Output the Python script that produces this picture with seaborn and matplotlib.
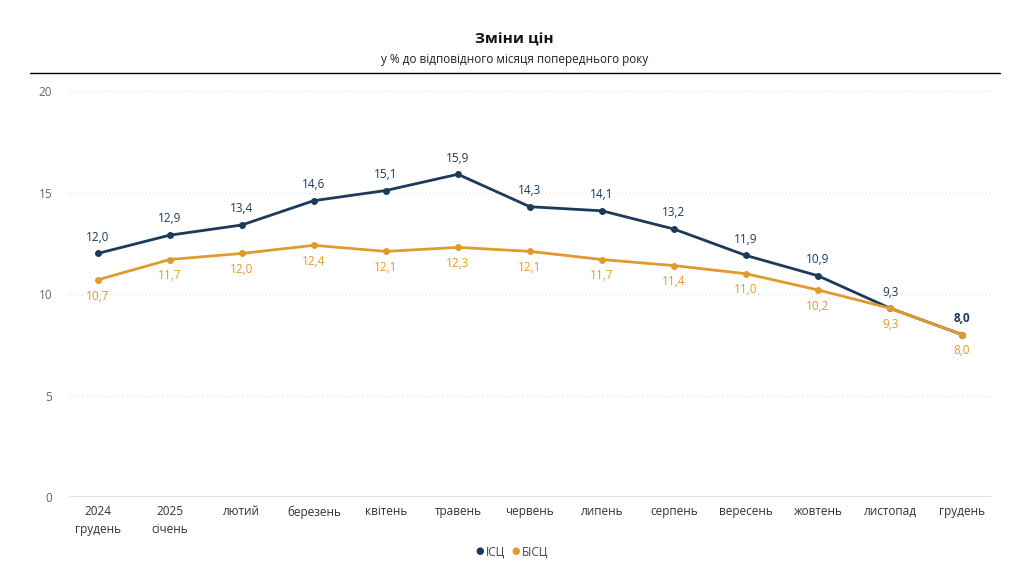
import matplotlib.pyplot as plt
import pandas as pd
import seaborn as sns

months = ["2024\nгрудень", "2025\nсічень", "лютий", "березень", "квітень", "травень",
          "червень", "липень", "серпень", "вересень", "жовтень", "листопад", "грудень"]
isc = [12.0, 12.9, 13.4, 14.6, 15.1, 15.9, 14.3, 14.1, 13.2, 11.9, 10.9, 9.3, 8.0]
bisc = [10.7, 11.7, 12.0, 12.4, 12.1, 12.3, 12.1, 11.7, 11.4, 11.0, 10.2, 9.3, 8.0]
series = ["ІСЦ", "БІСЦ"]
colors = {"ІСЦ": "#1B3A5C", "БІСЦ": "#E09A2E"}

df = pd.DataFrame({
    "x": list(range(len(months))) * 2,
    "value": isc + bisc,
    "series": [series[0]] * len(isc) + [series[1]] * len(bisc),
})

sns.set_style("white")
plt.rcParams["font.family"] = ["Open Sans", "DejaVu Sans"]

fig = plt.figure(figsize=(10.29, 5.69), dpi=100)
ax = fig.add_axes([0.067, 0.1265, 0.896, 0.7135])

sns.lineplot(data=df, x="x", y="value", hue="series", hue_order=series,
             palette=colors, marker="o", markersize=5, markeredgewidth=0,
             linewidth=2, ax=ax, legend=False)
# orange series sits on top where the lines meet
ax.lines[1].set_zorder(3)

# data labels
for i, v in enumerate(isc):
    ax.annotate(f"{v:.1f}".replace(".", ","), (i, v), xytext=(0, 7),
                textcoords="offset points", ha="center", va="bottom",
                fontsize=8.5, color=colors["ІСЦ"],
                fontweight="bold" if i == len(isc) - 1 else "medium")
for i, v in enumerate(bisc):
    ax.annotate(f"{v:.1f}".replace(".", ","), (i, v), xytext=(0, -7),
                textcoords="offset points", ha="center", va="top",
                fontsize=8.5, color=colors["БІСЦ"], fontweight="medium")

ax.set_xlim(-0.4, len(months) - 0.6)
ax.set_ylim(0, 20)
ax.set_yticks([0, 5, 10, 15, 20])
ax.set_xticks(range(len(months)))
ax.set_xticklabels(months, fontsize=8.5, color="#333333", linespacing=1.5)
ax.tick_params(axis="y", labelsize=8.5, labelcolor="#666666", length=0, pad=12)
ax.tick_params(axis="x", length=0, pad=6)
ax.set_xlabel("")
ax.set_ylabel("")

for y in [5, 10, 15, 20]:
    ax.axhline(y, color="#d9d9d9", linestyle=(0, (1, 3)), linewidth=0.8, zorder=0)
ax.axhline(0, color="#dde3ea", linewidth=1.5, zorder=0)
for s in ax.spines.values():
    s.set_visible(False)

fig.text(0.5, 0.93, "Зміни цін", ha="center", va="center",
         fontsize=11, fontweight="bold", color="#111111")
fig.text(0.5, 0.896, "у % до відповідного місяця попереднього року", ha="center",
         va="center", fontsize=8.5, color="#222222")
fig.add_artist(plt.Line2D([0.029, 0.972], [0.872, 0.872], color="black", linewidth=1))

# legend
fig.text(0.4665, 0.03, "●", color=colors["ІСЦ"], fontsize=7, ha="center", va="center")
fig.text(0.4725, 0.03, "ІСЦ", color="#444444", fontsize=8.5, ha="left", va="center")
fig.text(0.5015, 0.03, "●", color=colors["БІСЦ"], fontsize=7, ha="center", va="center")
fig.text(0.5075, 0.03, "БІСЦ", color="#444444", fontsize=8.5, ha="left", va="center")

fig.savefig("out.png", dpi=100, facecolor="white")
